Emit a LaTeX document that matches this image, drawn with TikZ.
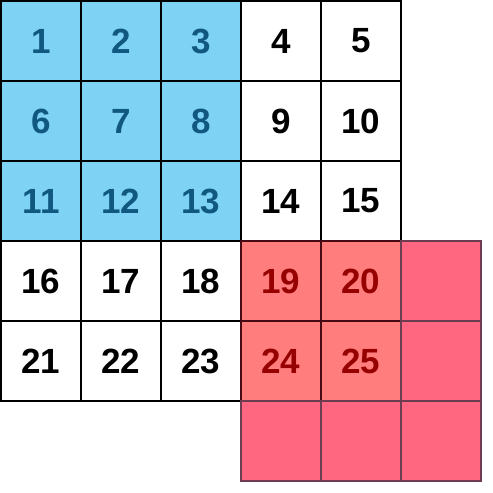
\documentclass[tikz,border=0pt]{standalone}
\usepackage{fontspec}
\setmainfont{Liberation Sans}
\definecolor{bluefill}{RGB}{126,210,244}
\definecolor{bluetext}{RGB}{16,88,128}
\definecolor{salmon}{RGB}{255,125,125}
\definecolor{pinkred}{RGB}{255,102,128}
\definecolor{redtext}{RGB}{150,0,0}
\definecolor{redline}{RGB}{70,10,20}
\definecolor{pinkline}{RGB}{110,60,80}
\tikzset{
  cell/.style={draw=black, line width=2pt, minimum size=80pt, inner sep=0pt,
    font=\fontsize{35}{35}\selectfont\bfseries, anchor=center},
  bluecell/.style={cell, fill=bluefill, text=bluetext},
  whitecell/.style={cell, fill=white, text=black},
  salmoncell/.style={cell, fill=salmon, text=redtext, draw=redline},
  pinkcell/.style={cell, fill=pinkred, draw=pinkline, line width=1.6pt}
}
\begin{document}
\begin{tikzpicture}[x=1pt,y=-1pt]
\useasboundingbox (0,0) rectangle (493,493);
% grid 5x5
\foreach \r in {0,...,4}{
  \foreach \c in {0,...,4}{
    \pgfmathtruncatemacro{\n}{5*\r+\c+1}
    \pgfmathsetmacro{\xx}{41+80*\c}
    \pgfmathsetmacro{\yy}{41+80*\r}
    \ifnum\r<3 \ifnum\c<3
      \node[bluecell] (c\n) at (\xx,\yy) {\n};
    \else
      \node[whitecell] (c\n) at (\xx,\yy) {\n};
    \fi\else
      \node[whitecell] (c\n) at (\xx,\yy) {\n};
    \fi
  }
}
% red overlay
\node[salmoncell] (c19) at (281,281) {19};
\node[salmoncell] (c20) at (361,281) {20};
\node[salmoncell] (c24) at (281,361) {24};
\node[salmoncell] (c25) at (361,361) {25};
\node[pinkcell] (p1) at (441,281) {};
\node[pinkcell] (p2) at (441,361) {};
\node[pinkcell] (p3) at (281,441) {};
\node[pinkcell] (p4) at (361,441) {};
\node[pinkcell] (p5) at (441,441) {};
\end{tikzpicture}
\end{document}
